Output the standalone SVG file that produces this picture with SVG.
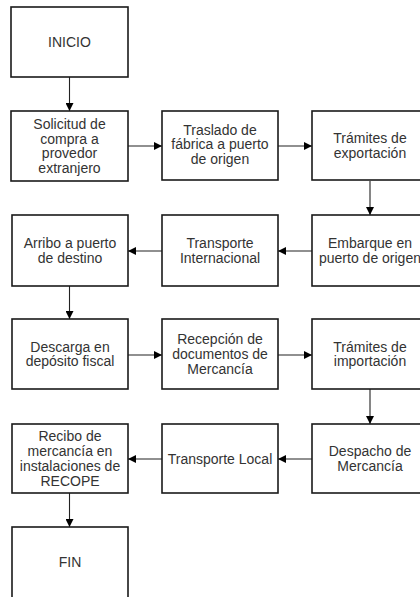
<svg xmlns="http://www.w3.org/2000/svg" width="420" height="597" viewBox="0 0 420 597">
<defs>
<marker id="ah" viewBox="0 0 10 10" refX="10" refY="5" markerWidth="9" markerHeight="8" markerUnits="userSpaceOnUse" orient="auto">
<path d="M0,0 L10,5 L0,10 z" fill="#000"/>
</marker>
<style>
.box{fill:#fff;stroke:#1a1a1a;stroke-width:1.6}
.t{font-family:"Liberation Sans",Arial,sans-serif;font-size:14px;fill:#333;text-anchor:middle}
.c{stroke:#222;stroke-width:1.1;fill:none;marker-end:url(#ah)}
</style>
</defs>
<rect width="420" height="597" fill="#fff"/>
<g id="connectors">
<line class="c" x1="69.5" y1="77" x2="69.5" y2="111"/>
<line class="c" x1="128" y1="146" x2="162" y2="146"/>
<line class="c" x1="278" y1="146" x2="312" y2="146"/>
<line class="c" x1="370" y1="181" x2="370" y2="215"/>
<line class="c" x1="312" y1="251" x2="278" y2="251"/>
<line class="c" x1="162" y1="251" x2="128" y2="251"/>
<line class="c" x1="69.5" y1="286" x2="69.5" y2="319"/>
<line class="c" x1="128" y1="355" x2="162" y2="355"/>
<line class="c" x1="278" y1="355" x2="312" y2="355"/>
<line class="c" x1="370" y1="389" x2="370" y2="424"/>
<line class="c" x1="312" y1="459" x2="278" y2="459"/>
<line class="c" x1="162" y1="459" x2="128" y2="459"/>
<line class="c" x1="69.5" y1="493" x2="69.5" y2="527"/>
</g>
<g id="inicio"><rect class="box" x="11" y="7" width="117" height="70"/><text class="t" x="69.5" y="47">INICIO</text></g>
<g id="solicitud"><rect class="box" x="11" y="111" width="117" height="70"/><text class="t"><tspan x="69.5" y="128.8">Solicitud de</tspan><tspan x="69.5" y="143.6">compra a</tspan><tspan x="69.5" y="158.4">provedor</tspan><tspan x="69.5" y="173.2">extranjero</tspan></text></g>
<g id="traslado"><rect class="box" x="162" y="111" width="116" height="69"/><text class="t"><tspan x="220" y="134.5">Traslado de</tspan><tspan x="220" y="149.3">fábrica a puerto</tspan><tspan x="220" y="164.1">de origen</tspan></text></g>
<g id="tramites-exp"><rect class="box" x="312" y="111" width="116" height="69"/><text class="t"><tspan x="370" y="143.1">Trámites de</tspan><tspan x="370" y="157.9">exportación</tspan></text></g>
<g id="embarque"><rect class="box" x="312" y="215" width="116" height="71"/><text class="t"><tspan x="370" y="248.1">Embarque en</tspan><tspan x="370" y="262.9">puerto de origen</tspan></text></g>
<g id="transporte-int"><rect class="box" x="162" y="215" width="116" height="71"/><text class="t"><tspan x="220" y="248.1">Transporte</tspan><tspan x="220" y="262.9">Internacional</tspan></text></g>
<g id="arribo"><rect class="box" x="12" y="215" width="116" height="71"/><text class="t"><tspan x="70" y="248.1">Arribo a puerto</tspan><tspan x="70" y="262.9">de destino</tspan></text></g>
<g id="descarga"><rect class="box" x="12" y="319" width="116" height="70"/><text class="t"><tspan x="70" y="351.6">Descarga en</tspan><tspan x="70" y="366.4">depósito fiscal</tspan></text></g>
<g id="recepcion"><rect class="box" x="162" y="319" width="116" height="70"/><text class="t"><tspan x="220" y="344.2">Recepción de</tspan><tspan x="220" y="359">documentos de</tspan><tspan x="220" y="373.8">Mercancía</tspan></text></g>
<g id="tramites-imp"><rect class="box" x="312" y="319" width="116" height="70"/><text class="t"><tspan x="370" y="351.6">Trámites de</tspan><tspan x="370" y="366.4">importación</tspan></text></g>
<g id="despacho"><rect class="box" x="312" y="424" width="116" height="69"/><text class="t"><tspan x="370" y="456.1">Despacho de</tspan><tspan x="370" y="470.9">Mercancía</tspan></text></g>
<g id="transporte-local"><rect class="box" x="162" y="424" width="116" height="69"/><text class="t" x="220" y="463.5">Transporte Local</text></g>
<g id="recibo"><rect class="box" x="12" y="424" width="116" height="69"/><text class="t"><tspan x="70" y="441.3">Recibo de</tspan><tspan x="70" y="456.1">mercancía en</tspan><tspan x="70" y="470.9">instalaciones de</tspan><tspan x="70" y="485.7">RECOPE</tspan></text></g>
<g id="fin"><rect class="box" x="12" y="527" width="116" height="72"/><text class="t" x="70" y="567">FIN</text></g>
</svg>
